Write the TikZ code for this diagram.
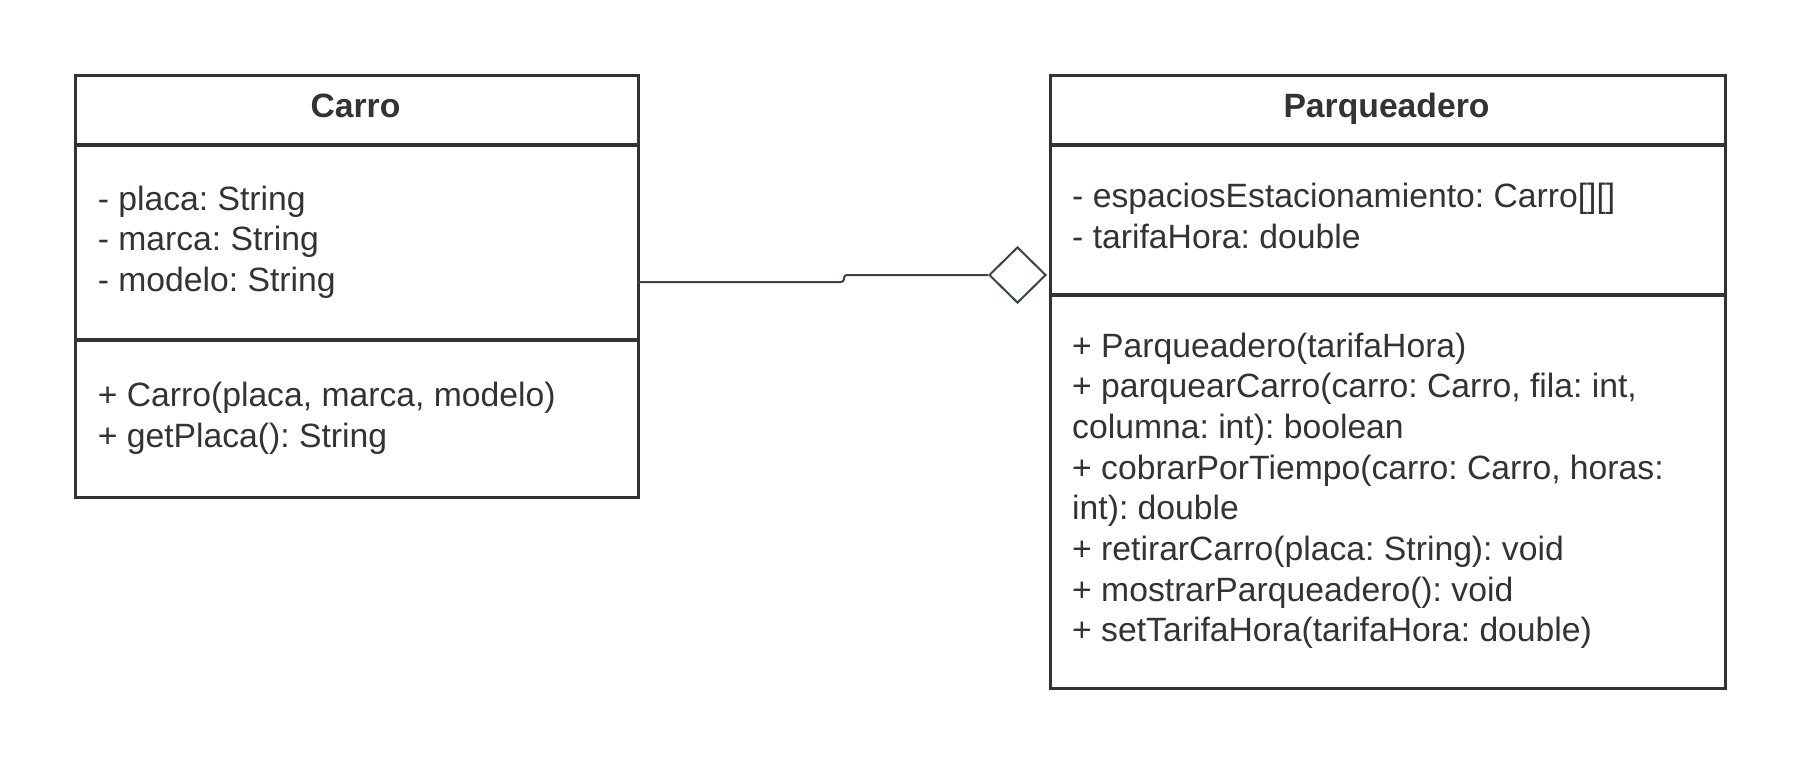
\documentclass[tikz,border=0pt]{standalone}
\usepackage{fontspec}
\setmainfont{Liberation Sans}
\usetikzlibrary{shapes.geometric}
\definecolor{umlline}{HTML}{333333}
\definecolor{umlconn}{HTML}{3A414A}
\frenchspacing
\tikzset{
  classbox/.style={draw=umlline,line width=3.3pt,rectangle,inner sep=0pt,anchor=north west},
  divider/.style={draw=umlline,line width=3.3pt},
  member/.style={anchor=base west,inner sep=0pt,text=umlline,font=\fontsize{33.7}{40.7}\selectfont},
  classname/.style={anchor=base,inner sep=0pt,text=umlline,font=\fontsize{33.7}{40.7}\selectfont\bfseries},
  conn/.style={draw=umlconn,line width=2pt},
  aggr/.style={diamond,draw=umlconn,line width=2pt,fill=white,inner sep=0pt,minimum width=57pt,minimum height=56pt,anchor=east}
}
\begin{document}
\begin{tikzpicture}[x=1pt,y=-1pt]
	\useasboundingbox (0,0) rectangle (1800,763);
	% Carro
	\node[classbox,minimum width=563pt,minimum height=422pt] (carro) at (74,74) {};
	\draw[divider] (74,145)--(637,145) (74,340)--(637,340);
	\node[classname] (carro-name) at (355.5,117) {Carro};
	\foreach \txt [count=\i] in {{- placa: String},{- marca: String},{- modelo: String}}
		\node[member] (carro-a\i) at (97.6,{210+40.7*(\i-1)}) {\txt};
	\foreach \txt [count=\i] in {{+ Carro(placa, marca, modelo)},{+ getPlaca(): String}}
		\node[member] (carro-m\i) at (97.6,{406.3+40.7*(\i-1)}) {\txt};
	% Parqueadero
	\node[classbox,minimum width=675pt,minimum height=613pt] (parq) at (1049,74) {};
	\draw[divider] (1049,145)--(1724,145) (1049,295)--(1724,295);
	\node[classname] (parq-name) at (1386.5,117) {Parqueadero};
	\foreach \txt [count=\i] in {{- espaciosEstacionamiento: Carro[][]},{- tarifaHora: double}}
		\node[member] (parq-a\i) at (1072,{207.5+40.7*(\i-1)}) {\txt};
	\foreach \txt [count=\i] in {{+ Parqueadero(tarifaHora)},{+ parquearCarro(carro: Carro, fila: int,},{columna: int): boolean},{+ cobrarPorTiempo(carro: Carro, horas:},{int): double},{+ retirarCarro(placa: String): void},{+ mostrarParqueadero(): void},{+ setTarifaHora(tarifaHora: double)}}
		\node[member] (parq-m\i) at (1072,{357+40.7*(\i-1)}) {\txt};
	% aggregation
	\node[aggr] (agg) at (1047,275) {};
	\coordinate (c-out) at (637,282);
	\coordinate (hop) at (844,282);
	\draw[conn,rounded corners=3pt] (c-out)--(hop)|-(agg.west);
\end{tikzpicture}
\end{document}
